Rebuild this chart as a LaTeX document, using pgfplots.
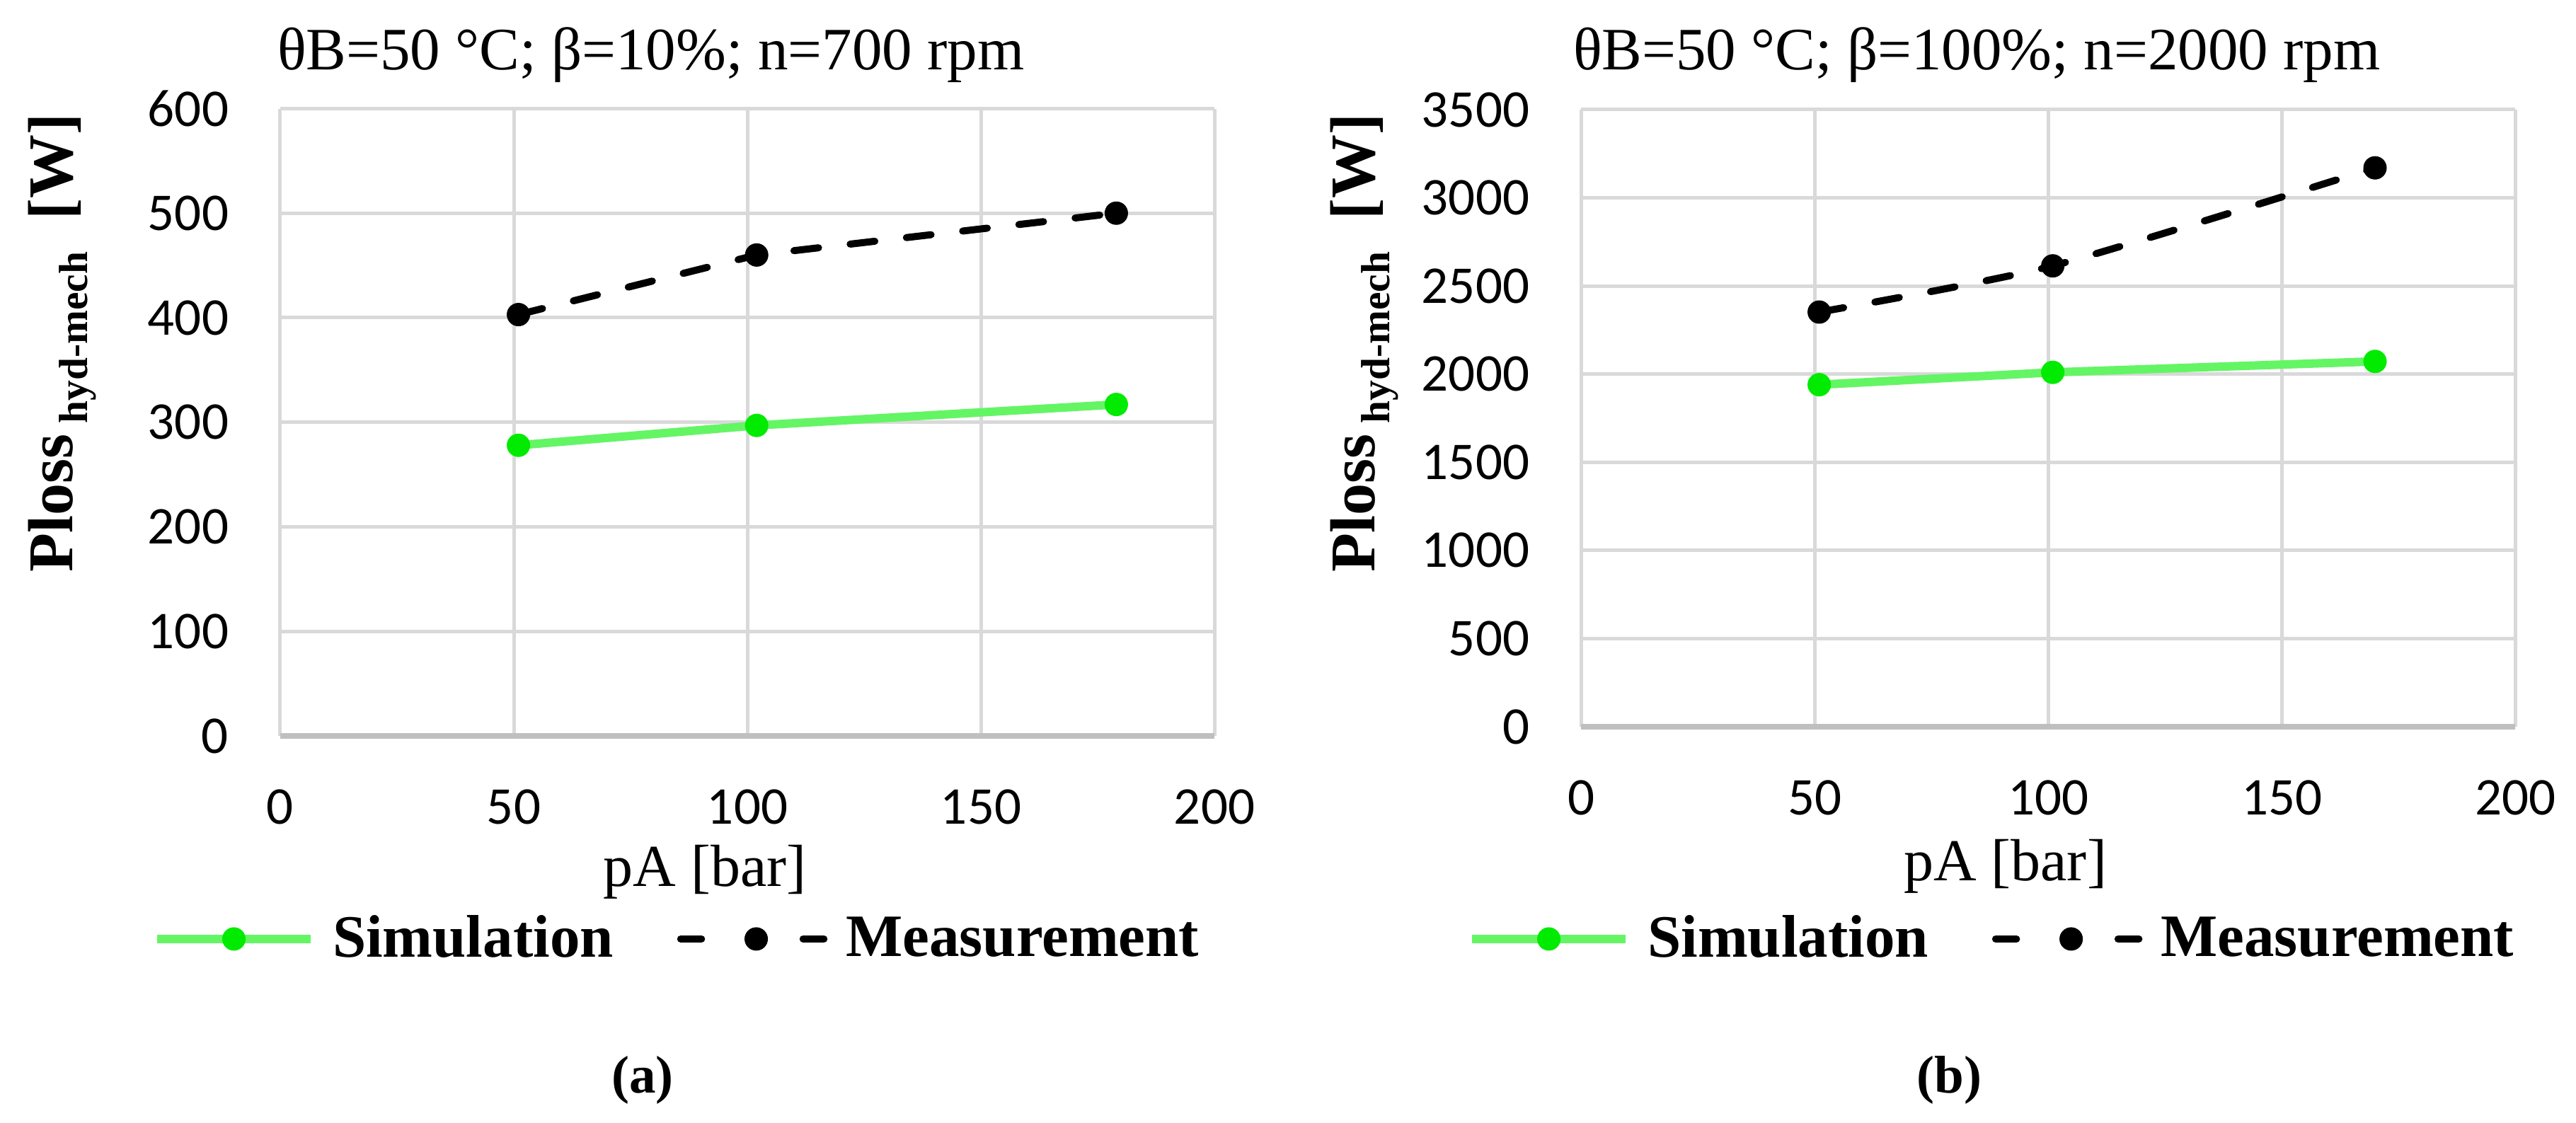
\documentclass[border=0pt]{standalone}
\usepackage{fontspec}
\setmainfont{Liberation Serif}
\newfontfamily\tickfont{Carlito}
\usepackage{pgfplots}
\pgfplotsset{compat=1.18}
\definecolor{gridgray}{HTML}{D9D9D9}
\definecolor{axisgray}{HTML}{BFBFBF}
\definecolor{simline}{RGB}{100,245,100}
\definecolor{simmark}{RGB}{0,235,0}
\pgfplotsset{
  panel/.style={
    scale only axis, width=264pt,
    xmin=0, xmax=200, xtick={0,50,100,150,200},
    grid=major, major grid style={gridgray, line width=1pt},
    axis line style={draw=none}, tick style={draw=none},
    /pgf/number format/assume math mode=true,
    /pgf/number format/1000 sep={},
    ticklabel style={font=\tickfont\fontsize{15}{18}\selectfont},
    xticklabel style={anchor=base, yshift=-25pt},
    yticklabel style={anchor=east, inner sep=0pt, xshift=-14.4pt},
    extra y ticks={0},
    extra y tick style={major grid style={axisgray, line width=1.5pt}},
    xlabel={pA [bar]},
    xlabel style={font=\fontsize{16.8}{20}\selectfont, anchor=base},
    ylabel={\bfseries\fontsize{18}{20}\selectfont Ploss\hspace{3pt}\raisebox{-4.2pt}{\fontsize{11.5}{13}\selectfont hyd-mech}\hspace{9pt}[W]},
    ylabel style={anchor=base},
    legend style={draw=none, fill=none, inner sep=0pt, anchor=west,
      font=\bfseries\fontsize{17}{20}\selectfont, cells={anchor=west},
      /tikz/every odd column/.style={column sep=3pt},
      /tikz/every even column/.style={column sep=16pt}},
    legend columns=2,
  },
  sim/.style={simline, line width=2.4pt, mark=*, mark size=3.2pt,
    mark options={solid, fill=simmark, draw=simmark, line width=0.2pt},
    legend image code/.code={\draw[##1, mark repeat=2, mark phase=2] plot coordinates {(0pt,0pt) (21.7pt,0pt) (43.4pt,0pt)};}},
  meas/.style={black, line width=2pt, line cap=round, dash pattern=on 7pt off 9pt,
    mark=*, mark size=3.2pt, mark options={solid, fill=black, draw=black, line width=0.2pt},
    legend image code/.code={\draw[##1, dash pattern=on 5.9pt off 28.7pt, mark repeat=2, mark phase=2] plot coordinates {(0.85pt,0pt) (22.2pt,0pt) (41.55pt,0pt)};}},
}
\begin{document}
\begin{tikzpicture}
\path[use as bounding box] (0,0) rectangle (728pt,317.4pt);
% titles
\node[anchor=base west, font=\fontsize{17}{20}\selectfont, inner sep=0pt] at (78.2pt,297.7pt) {θB=50 °C; β=10\%; n=700 rpm};
\node[anchor=base west, font=\fontsize{17}{20}\selectfont, inner sep=0pt] at (444.4pt,297.7pt) {θB=50 °C; β=100\%; n=2000 rpm};
% captions
\node[anchor=base, font=\bfseries\fontsize{15}{18}\selectfont] at (181.6pt,8.5pt) {(a)};
\node[anchor=base, font=\bfseries\fontsize{15}{18}\selectfont] at (550.9pt,8.5pt) {(b)};

\begin{axis}[panel, at={(79.2pt,109.4pt)}, anchor=south west, height=177.3pt,
  ymin=0, ymax=600, ytick={100,200,...,600},
  xlabel style={at={(axis description cs:0.4545,-0.2397)}},
  ylabel style={at={(axis description cs:-0.2220,0.6266)}},
  legend style={at={(axis description cs:-0.1371,-0.3237)}}]
\addplot[sim] coordinates {(51,278) (102,297) (179,317)};
\addlegendentry{Simulation}
\addplot[meas] coordinates {(51,403) (102,460) (179,500)};
\addlegendentry{Measurement}
\end{axis}

\begin{axis}[panel, at={(446.8pt,112pt)}, anchor=south west, height=174.4pt,
  ymin=0, ymax=3500, ytick={500,1000,...,3500},
  xlabel style={at={(axis description cs:0.4542,-0.25)}},
  ylabel style={at={(axis description cs:-0.2210,0.6221)}},
  legend style={at={(axis description cs:-0.1219,-0.344)}}]
\addplot[sim] coordinates {(51,1940) (101,2010) (170,2072)};
\addlegendentry{Simulation}
\addplot[meas, smooth, tension=0.4] coordinates {(51,2352) (101,2614) (170,3170)};
\addlegendentry{Measurement}
\end{axis}
\end{tikzpicture}
\end{document}
